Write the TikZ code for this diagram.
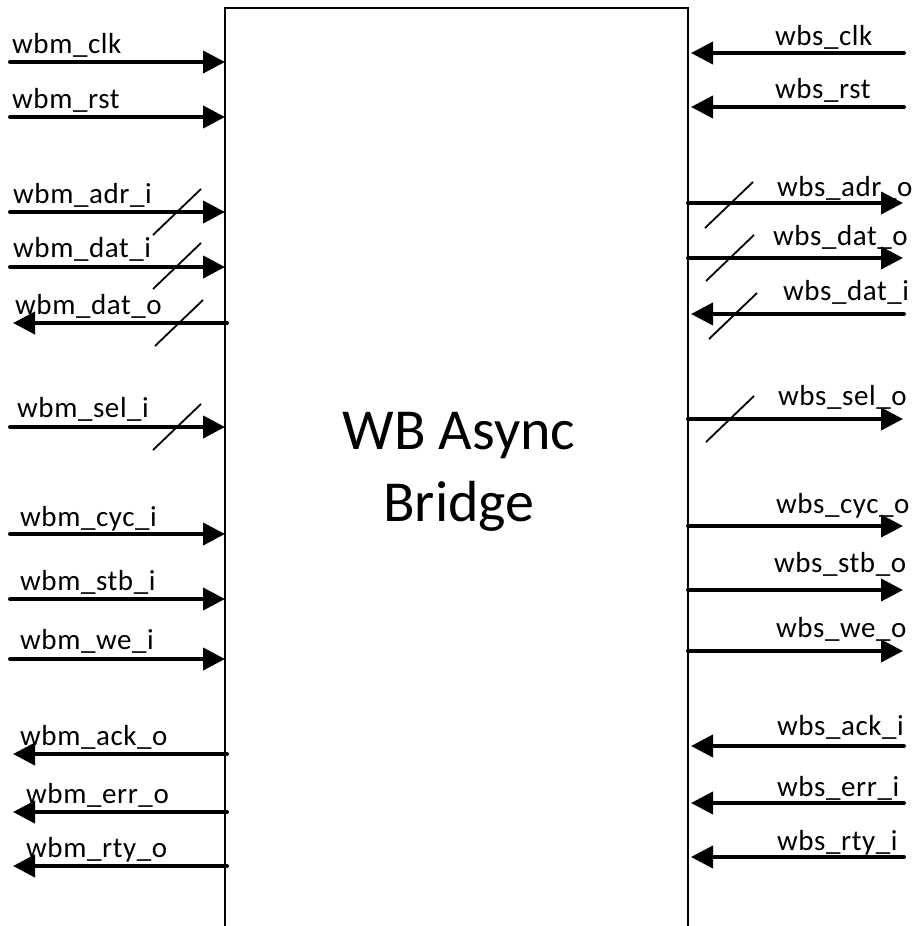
\documentclass[tikz,border=0pt]{standalone}
\usepackage{fontspec}
\setmainfont{Carlito}
\usetikzlibrary{arrows.meta}

\tikzset{
  sig/.style={line width=4pt, line cap=round, -{Triangle[length=22pt,width=22pt]}},
  busmark/.style={line width=1.8pt},
  signame/.style={anchor=base west, inner sep=0pt, font=\fontsize{29}{35}\selectfont\addfontfeature{LetterSpace=2}},
}

\begin{document}
\begin{tikzpicture}[x=1pt, y=-1pt]
    \useasboundingbox (0,0) rectangle (913,926);

    % Bridge box (open at the bottom)
    \coordinate (boxBL) at (225,926);
    \coordinate (boxTL) at (225,8);
    \coordinate (boxTR) at (688,8);
    \coordinate (boxBR) at (688,926);
    \draw[line width=1.8pt] (boxBL) -- (boxTL) -- (boxTR) -- (boxBR);
    \node[align=center, inner sep=0pt, font=\fontsize{58}{72}\selectfont] (title) at (459,472) {WB Async\\Bridge};

    % Master side: inputs into the bridge
    \foreach \n/\y/\ty/\tx/\t in {mclk/62/53/12/wbm\_clk, mrst/117/108/12/wbm\_rst,
        madri/212/203/13/wbm\_adr\_i, mdati/267/257/13/wbm\_dat\_i,
        mseli/427/417/17/wbm\_sel\_i, mcyci/534/526/20/wbm\_cyc\_i,
        mstbi/599/590/20/wbm\_stb\_i, mwei/659/649/20/wbm\_we\_i} {
        \coordinate (\n-a) at (10,\y);
        \coordinate (\n-b) at (225,\y);
        \draw[sig] (\n-a) -- (\n-b);
        \node[signame] (\n) at (\tx,\ty) {\t};
    }

    % Master side: outputs from the bridge
    \foreach \n/\y/\ty/\tx/\t in {mdato/323/314/15/wbm\_dat\_o, macko/754/745/20/wbm\_ack\_o,
        merro/812/803/26/wbm\_err\_o, mrtyo/866/857/26/wbm\_rty\_o} {
        \coordinate (\n-a) at (227,\y);
        \coordinate (\n-b) at (13,\y);
        \draw[sig] (\n-a) -- (\n-b);
        \node[signame] (\n) at (\tx,\ty) {\t};
    }

    % Slave side: outputs from the bridge
    \foreach \n/\y/\ty/\tx/\t in {sadro/203/196/777/wbs\_adr\_o, sdato/258/245/773/wbs\_dat\_o,
        selo/419/405/778/wbs\_sel\_o, scyco/526/513/776/wbs\_cyc\_o,
        sstbo/590/572/774/wbs\_stb\_o, sweo/651/637/776/wbs\_we\_o} {
        \coordinate (\n-a) at (688,\y);
        \coordinate (\n-b) at (903,\y);
        \draw[sig] (\n-a) -- (\n-b);
        \node[signame] (\n) at (\tx,\ty) {\t};
    }

    % Slave side: inputs into the bridge
    \foreach \n/\y/\ty/\tx/\t in {sclk/53/45/775/wbs\_clk, srst/107/98/775/wbs\_rst,
        sdati/314/300/783/wbs\_dat\_i, sacki/746/735/777/wbs\_ack\_i,
        serri/803/796/777/wbs\_err\_i, srtyi/857/850/777/wbs\_rty\_i} {
        \coordinate (\n-a) at (904,\y);
        \coordinate (\n-b) at (691,\y);
        \draw[sig] (\n-a) -- (\n-b);
        \node[signame] (\n) at (\tx,\ty) {\t};
    }

    % Bus width marks
    \foreach \n/\cx/\cy in {madri/177/212, mdati/177/266, mdato/179/323, mseli/177/427,
        sadro/729/205, sdato/730/258, sdati/733/316, selo/730/419} {
        \coordinate (\n-bus) at (\cx,\cy);
        \draw[busmark] (\n-bus) +(-24,23) -- +(24,-23);
    }

\end{tikzpicture}
\end{document}
